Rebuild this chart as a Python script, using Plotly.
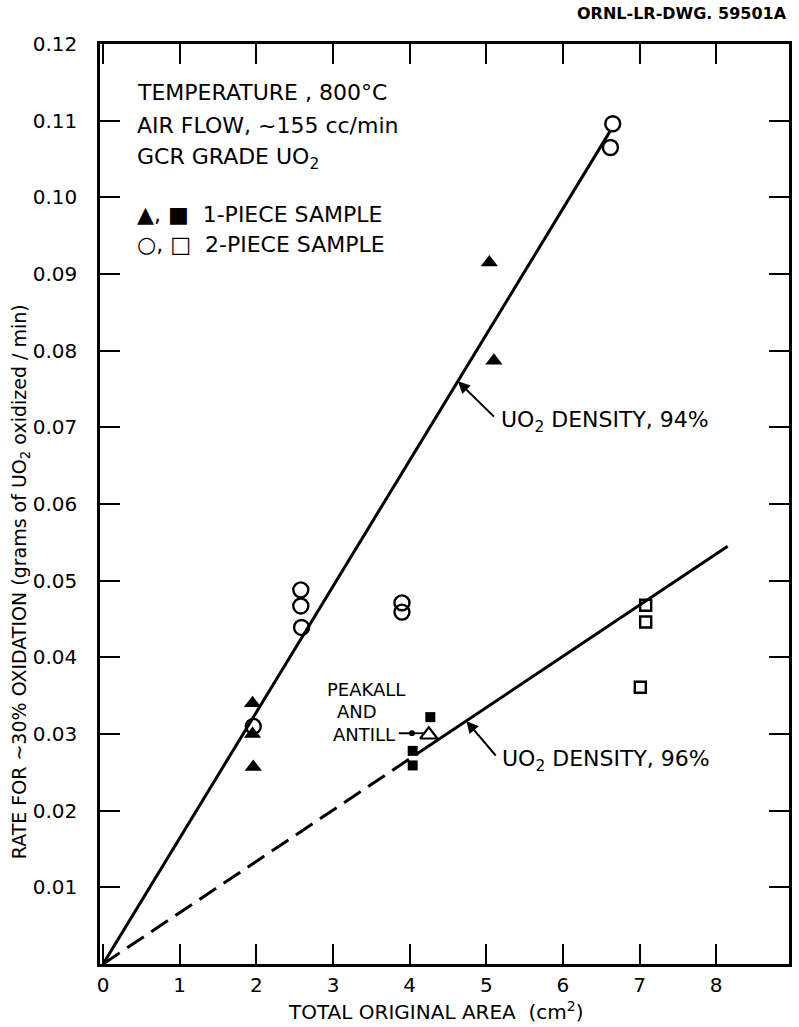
import plotly.graph_objects as go

# Oxidation rate of GCR grade UO2 at 800 C versus total original area
FONT = "DejaVu Sans"

# 1-piece samples, 94% density (filled triangles)
tri_1p_x = [1.95, 1.95, 1.96, 5.04, 5.10]
tri_1p_y = [0.0340, 0.0300, 0.0257, 0.0915, 0.0787]

# 2-piece samples, 94% density (open circles)
circ_2p_x = [1.96, 2.58, 2.58, 2.59, 3.90, 3.90, 6.65, 6.62]
circ_2p_y = [0.0310, 0.0488, 0.0467, 0.0439, 0.0471, 0.0459, 0.1096, 0.1065]

# 1-piece samples, 96% density (filled squares)
sq_1p_x = [4.27, 4.04, 4.04]
sq_1p_y = [0.0322, 0.0278, 0.0259]

# 2-piece samples, 96% density (open squares)
sq_2p_x = [7.08, 7.08, 7.01]
sq_2p_y = [0.0468, 0.0446, 0.0361]

# Peakall and Antill reference point
pa_x = [4.25]
pa_y = [0.0299]

# Fitted lines through the origin
fit94_x = [0.0, 6.62]
fit94_y = [0.0, 0.1087]
fit96_dash_x = [0.0, 4.2]
fit96_dash_y = [0.0, 0.0281]
fit96_solid_x = [4.2, 8.15]
fit96_solid_y = [0.0281, 0.0545]

x_ticks = [0, 1, 2, 3, 4, 5, 6, 7, 8]
y_ticks = [0.01, 0.02, 0.03, 0.04, 0.05, 0.06, 0.07, 0.08, 0.09, 0.10, 0.11, 0.12]
y_ticktext = ["0.01", "0.02", "0.03", "0.04", "0.05", "0.06", "0.07", "0.08",
              "0.09", "0.10", "0.11", "0.12"]

fig = go.Figure()

line_style = dict(color="black", width=3)
fig.add_trace(go.Scatter(x=fit94_x, y=fit94_y, mode="lines", line=line_style))
fig.add_trace(go.Scatter(x=fit96_dash_x, y=fit96_dash_y, mode="lines",
                         line=dict(color="black", width=3, dash="20px,9px")))
fig.add_trace(go.Scatter(x=fit96_solid_x, y=fit96_solid_y, mode="lines", line=line_style))

fig.add_trace(go.Scatter(x=circ_2p_x, y=circ_2p_y, mode="markers",
                         marker=dict(symbol="circle-open", size=15, color="black",
                                     line=dict(width=2.4, color="black"))))
fig.add_trace(go.Scatter(x=tri_1p_x, y=tri_1p_y, mode="markers",
                         marker=dict(symbol="triangle-up", size=15, color="black")))
fig.add_trace(go.Scatter(x=sq_1p_x, y=sq_1p_y, mode="markers",
                         marker=dict(symbol="square", size=10, color="black")))
fig.add_trace(go.Scatter(x=sq_2p_x, y=sq_2p_y, mode="markers",
                         marker=dict(symbol="square-open", size=11, color="black",
                                     line=dict(width=2.4, color="black"))))
fig.add_trace(go.Scatter(x=pa_x, y=pa_y, mode="markers",
                         marker=dict(symbol="triangle-up-open", size=15, color="black",
                                     line=dict(width=2.2, color="black"))))

txt = dict(family=FONT, size=22, color="black")
ann = []

# Conditions block
for label, yv in [("TEMPERATURE , 800°C", 0.1137),
                  ("AIR FLOW, ~155 cc/min", 0.1094),
                  ("GCR GRADE UO<sub>2</sub>", 0.1051),
                  ("▲, ■  1-PIECE SAMPLE", 0.0977),
                  ("○, □  2-PIECE SAMPLE", 0.0938)]:
    ann.append(dict(x=0.42, y=yv, xref="x", yref="y", text=label, showarrow=False,
                    xanchor="left", yanchor="middle", font=txt))

# Line labels with leaders
ann.append(dict(x=5.16, y=0.0707, xref="x", yref="y", text="UO<sub>2</sub> DENSITY, 94%",
                showarrow=False, xanchor="left", yanchor="middle", font=txt))
ann.append(dict(x=4.63, y=0.0760, ax=5.12, ay=0.0712, xref="x", yref="y",
                axref="x", ayref="y", text="", showarrow=True, arrowhead=2,
                arrowsize=1.2, arrowwidth=2, arrowcolor="black"))
ann.append(dict(x=5.18, y=0.0266, xref="x", yref="y", text="UO<sub>2</sub> DENSITY, 96%",
                showarrow=False, xanchor="left", yanchor="middle", font=txt))
ann.append(dict(x=4.74, y=0.0317, ax=5.14, ay=0.0270, xref="x", yref="y",
                axref="x", ayref="y", text="", showarrow=True, arrowhead=2,
                arrowsize=1.2, arrowwidth=2, arrowcolor="black"))

# Peakall and Antill label
small = dict(family=FONT, size=18, color="black")
ann.append(dict(x=3.43, y=0.0358, xref="x", yref="y", text="PEAKALL", showarrow=False,
                xanchor="center", yanchor="middle", font=small))
ann.append(dict(x=3.31, y=0.0329, xref="x", yref="y", text="AND", showarrow=False,
                xanchor="center", yanchor="middle", font=small))
ann.append(dict(x=3.83, y=0.0299, xref="x", yref="y", text="ANTILL", showarrow=False,
                xanchor="right", yanchor="middle", font=small))
ann.append(dict(x=4.03, y=0.0301, ax=3.84, ay=0.0301, xref="x", yref="y",
                axref="x", ayref="y", text="", showarrow=True, arrowhead=6,
                arrowsize=0.8, arrowwidth=1.8, arrowcolor="black"))

# Axis titles and drawing number
ann.append(dict(x=0.487, y=-0.051, xref="paper", yref="paper",
                text="TOTAL ORIGINAL AREA  (cm<sup>2</sup>)", showarrow=False,
                xanchor="center", yanchor="middle", font=dict(family=FONT, size=20, color="black")))
ann.append(dict(x=-0.116, y=0.415, xref="paper", yref="paper", textangle=-90,
                text="RATE FOR ~30% OXIDATION (grams of UO<sub>2</sub> oxidized / min)",
                showarrow=False, xanchor="center", yanchor="middle",
                font=dict(family=FONT, size=19, color="black")))
ann.append(dict(x=1.0, y=1.033, xref="paper", yref="paper", text="<b>ORNL-LR-DWG. 59501A</b>",
                showarrow=False, xanchor="right", yanchor="middle",
                font=dict(family=FONT, size=16, color="black")))

shapes = [dict(type="line", xref="x", yref="y", x0=4.03, y0=0.0301, x1=4.19, y1=0.0301,
               line=dict(color="black", width=1.8))]

axis_common = dict(showline=True, linecolor="black", linewidth=2.5, mirror="ticks",
                   ticks="inside", ticklen=20, tickwidth=2, tickcolor="black",
                   showgrid=False, zeroline=False,
                   tickfont=dict(family=FONT, size=20, color="black"))

fig.update_layout(
    width=799, height=1027,
    margin=dict(l=100, r=7, t=44, b=63),
    paper_bgcolor="white", plot_bgcolor="white",
    showlegend=False,
    annotations=ann, shapes=shapes,
    xaxis=dict(range=[-0.04, 8.95], tickvals=x_ticks,
               ticktext=[str(v) for v in x_ticks], ticklabelstandoff=1, **axis_common),
    yaxis=dict(range=[0, 0.12], tickvals=y_ticks, ticktext=y_ticktext,
               ticklabelstandoff=16, **axis_common),
)

fig.write_html("out.html")
